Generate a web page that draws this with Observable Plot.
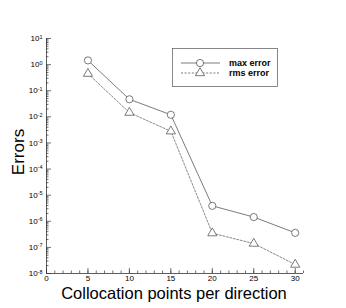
<!DOCTYPE html>
<html><head><meta charset="utf-8">
<script src="https://cdn.jsdelivr.net/npm/d3@7"></script>
<script src="https://cdn.jsdelivr.net/npm/@observablehq/plot@0.6"></script>
<style>
html,body{margin:0;padding:0;background:#fff}
svg{font-family:"Liberation Sans",Arial,Helvetica,sans-serif}
</style>
</head><body><div id="chart"></div>
<script>
const points = [5, 10, 15, 20, 25, 30];
const maxError = [1.45, 0.047, 0.012, 3.9e-6, 1.45e-6, 3.6e-7];
const rmsError = [0.45, 0.0145, 0.0028, 3.5e-7, 1.4e-7, 2.2e-8];
const seriesNames = ["max error", "rms error"];
const xTicks = [0, 5, 10, 15, 20, 25, 30];
const yExponents = [1, 0, -1, -2, -3, -4, -5, -6, -7, -8];
const xTitle = "Collocation points per direction";
const yTitle = "Errors";

const maxData = points.map((x, i) => ({x, y: maxError[i]}));
const rmsData = points.map((x, i) => ({x, y: rmsError[i]}));
const yTicks = yExponents.map(e => Math.pow(10, e));
const yMinor = [];
for (const e of yExponents.slice(1)) for (let k = 2; k <= 9; k++) yMinor.push(k * Math.pow(10, e));
const xMinor = d3.range(0, 32);

const ink = "#333";
const plot = Plot.plot({
  width: 346, height: 308,
  marginLeft: 46, marginRight: 43, marginTop: 38, marginBottom: 35,
  style: {fontSize: "8px", background: "#fff", color: "#000", overflow: "visible"},
  x: {domain: [0, 31]},
  y: {type: "log", domain: [1e-8, 10]},
  marks: [
    Plot.axisX(xMinor, {tickSize: -2.5, tickFormat: () => "", label: null, stroke: ink, strokeWidth: 0.7}),
    Plot.axisX(xTicks, {tickSize: -5, tickPadding: 7, tickFormat: d => String(d), label: null, stroke: ink, strokeWidth: 0.7}),
    Plot.axisY(yMinor, {tickSize: -2.5, tickFormat: () => "", label: null, stroke: ink, strokeWidth: 0.7}),
    Plot.axisY(yTicks, {tickSize: -5, tickPadding: 9, tickFormat: d => "10^" + Math.round(Math.log10(d)), label: null, stroke: ink, strokeWidth: 0.7}),
    Plot.ruleX([0], {stroke: ink, strokeWidth: 0.8}),
    Plot.ruleY([1e-8], {stroke: ink, strokeWidth: 0.8}),
    Plot.line(maxData, {x: "x", y: "y", stroke: "#444", strokeWidth: 0.7}),
    Plot.line(rmsData, {x: "x", y: "y", stroke: "#555", strokeWidth: 0.7, strokeDasharray: "2,1.6"}),
    Plot.dot(maxData, {x: "x", y: "y", r: 3.6, symbol: "circle", stroke: "#444", fill: "white", strokeWidth: 0.7}),
    Plot.dot(rmsData, {x: "x", y: "y", r: 3.4, symbol: "triangle", stroke: "#444", fill: "white", strokeWidth: 0.7})
  ]
});
document.getElementById("chart").appendChild(plot);

const svg = d3.select(plot);
// drop empty minor-tick labels
svg.selectAll("text").filter(function() { return this.textContent === ""; }).remove();
// superscript tick labels
svg.selectAll('g[aria-label="y-axis tick label"] text').each(function() {
  const t = d3.select(this);
  const s = t.text();
  if (!s.includes("^")) return;
  const [b, e] = s.split("^");
  t.text(null);
  t.append("tspan").text(b);
  t.append("tspan").attr("dy", "-0.45em").attr("font-size", "5.5px").text(e);
});

// axis titles
svg.append("text").attr("x", 174).attr("y", 299).attr("text-anchor", "middle")
  .attr("font-size", "16.5px").attr("fill", "#000").text(xTitle);
svg.append("text").attr("transform", "translate(24,152) rotate(-90)").attr("text-anchor", "middle")
  .attr("font-size", "17px").attr("fill", "#000").text(yTitle);

// legend
const lg = svg.append("g");
lg.append("rect").attr("x", 172.5).attr("y", 48.5).attr("width", 105).attr("height", 38)
  .attr("fill", "white").attr("stroke", "#555").attr("stroke-width", 0.7);
const rows = [{y: 63, dash: null, sym: d3.symbolCircle, r: 3.6}, {y: 73, dash: "2,1.6", sym: d3.symbolTriangle, r: 3.4}];
rows.forEach((row, i) => {
  lg.append("line").attr("x1", 181).attr("x2", 220).attr("y1", row.y).attr("y2", row.y)
    .attr("stroke", "#444").attr("stroke-width", 0.7).attr("stroke-dasharray", row.dash);
  lg.append("path").attr("transform", `translate(200,${row.y})`)
    .attr("d", d3.symbol(row.sym, Math.PI * row.r * row.r)())
    .attr("fill", "white").attr("stroke", "#444").attr("stroke-width", 0.7);
  lg.append("text").attr("x", 229).attr("y", row.y + 3).attr("font-size", "9px")
    .attr("text-anchor", "start").attr("font-weight", "bold").attr("fill", "#000").text(seriesNames[i]);
});
</script>
</body></html>
